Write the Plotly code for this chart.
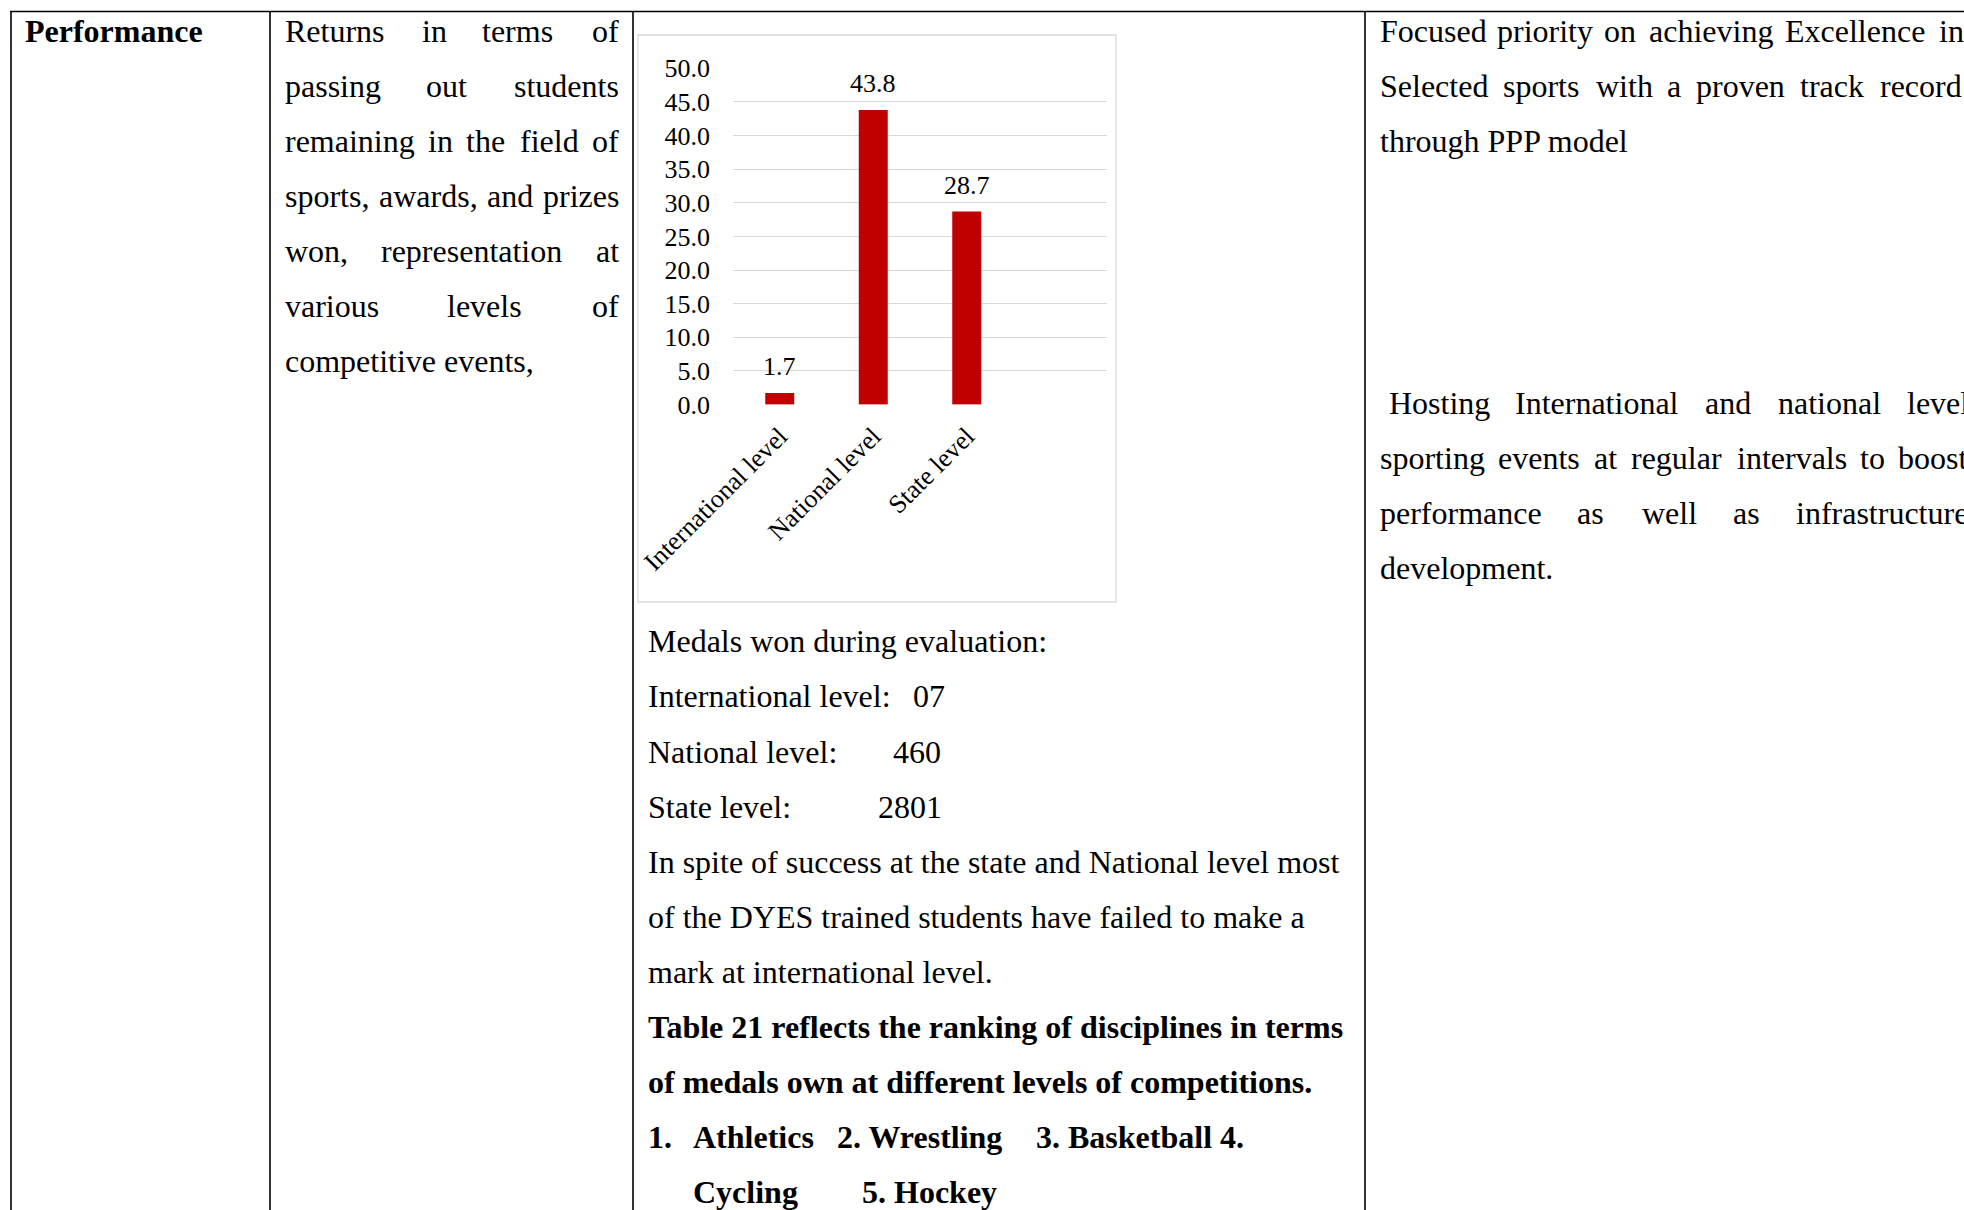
import plotly.graph_objects as go

W, H = 1964, 1210

# ---- data -------------------------------------------------------------
levels = ["International level", "National level", "State level"]
share_pct = [1.7, 43.8, 28.7]
medals = ["07", "460", "2801"]
y_ticks = [0, 5, 10, 15, 20, 25, 30, 35, 40, 45, 50]
disciplines = ["Athletics", "Wrestling", "Basketball", "Cycling", "Hockey"]

# ---- styling ----------------------------------------------------------
SERIF = "Liberation Serif, Times New Roman, serif"
BODY = 32
CHART = 26
BAR_RED = "#c00000"
GRID = "#d9d9d9"
RULE = "black"
TEXT_INSET = 2.5   # annotation box padding compensation, px


def px(x):
    return x / W


def py(y):
    return 1 - y / H


fig = go.Figure()

fig.add_trace(go.Bar(
    x=list(range(len(levels))),
    y=share_pct,
    width=0.31,
    marker=dict(color=BAR_RED, line=dict(width=0)),
    hoverinfo="skip",
))

# value labels above the bars
for i, v in enumerate(share_pct):
    fig.add_annotation(
        x=i, y=v, xref="x", yref="y", text=f"{v:.1f}",
        showarrow=False, yanchor="bottom", yshift=10,
        font=dict(family=SERIF, size=CHART, color="black"),
    )

# plot area placement (pixel rows of the 0 and 50 gridlines)
y0_px, y50_px, pad = 404.5, 68.3, 0.05
unit = (y0_px - y50_px) / 50.0
y_dom = [py(y0_px + pad * unit), py(y50_px - pad * unit)]

fig.update_layout(
    width=W, height=H,
    margin=dict(l=0, r=0, t=0, b=0, pad=0, autoexpand=False),
    paper_bgcolor="white", plot_bgcolor="white",
    showlegend=False,
    xaxis=dict(
        domain=[px(733), px(1107)],
        range=[-0.5, 3.5],
        tickmode="array",
        tickvals=list(range(len(levels))),
        ticktext=levels,
        tickangle=-45,
        automargin=False,
        showgrid=False, zeroline=False, showline=False, ticks="",
        ticklabelstandoff=10,
        tickfont=dict(family=SERIF, size=CHART, color="black"),
        fixedrange=True,
    ),
    yaxis=dict(
        domain=y_dom,
        range=[-pad, 50 + pad],
        tickmode="array",
        tickvals=y_ticks,
        tickformat=".1f",
        automargin=False,
        showgrid=True, gridcolor=GRID, gridwidth=1.3,
        zeroline=False, showline=False, ticks="",
        ticklabelstandoff=22,
        tickfont=dict(family=SERIF, size=CHART, color="black"),
        fixedrange=True,
    ),
)

# ---- table rules --------------------------------------------------------
shapes = [
    dict(type="line", xref="paper", yref="paper",
         x0=px(10), x1=px(W + 5), y0=py(11.5), y1=py(11.5),
         line=dict(color=RULE, width=1.6)),
]
for xv in [11, 270, 633, 1365]:
    shapes.append(dict(type="line", xref="paper", yref="paper",
                       x0=px(xv), x1=px(xv), y0=py(11), y1=py(H + 5),
                       line=dict(color=RULE, width=1.6)))
# chart frame
shapes.append(dict(type="rect", xref="paper", yref="paper",
                   x0=px(638), x1=px(1116), y0=py(35), y1=py(602),
                   line=dict(color=GRID, width=1.3)))
fig.update_layout(shapes=shapes)


# ---- cell text ------------------------------------------------------------
def text(x, y, s, bold=False, anchor="left"):
    x = x - TEXT_INSET if anchor == "left" else x + TEXT_INSET
    fig.add_annotation(
        x=px(x), y=py(y), xref="paper", yref="paper",
        text=f"<b>{s}</b>" if bold else s,
        showarrow=False, xanchor=anchor, yanchor="middle",
        font=dict(family=SERIF, size=BODY, color="black"),
    )


def justified(words, lefts, y, right=None):
    """Lay out one justified line word by word; optional right margin
    pins the last word flush right."""
    for k, (w, x) in enumerate(zip(words, lefts)):
        if right is not None and k == len(words) - 1:
            text(right, y, w, anchor="right")
        else:
            text(x, y, w)


LEAD = 55.1

# column 1
text(25, 30.5, "Performance", bold=True)

# column 2
c2_top, c2_left, c2_right = 30.5, 285, 618
c2_lines = [
    (["Returns", "in", "terms", "of"], [285, 422, 482.5, 591]),
    (["passing", "out", "students"], [285, 426, 514]),
    (["remaining", "in", "the", "field", "of"], [285, 428, 466, 520, 591]),
    (["sports,", "awards,", "and", "prizes"], [285, 379.5, 487, 543]),
    (["won,", "representation", "at"], [285, 381, 597]),
    (["various", "levels", "of"], [285, 447, 591]),
]
for k, (words, lefts) in enumerate(c2_lines):
    justified(words, lefts, c2_top + k * LEAD, right=c2_right)
text(c2_left, c2_top + 6 * LEAD, "competitive events,")

# column 3 (below the chart)
c3_top, c3_left = 641.3, 648
text(c3_left, c3_top, "Medals won during evaluation:")
for k, (lvl, n, xn) in enumerate(zip(levels, medals, [913, 893, 878.5])):
    yy = c3_top + (k + 1) * LEAD
    text(c3_left, yy, f"{lvl}:")
    text(xn, yy, n)
text(c3_left, c3_top + 4 * LEAD,
     "In spite of success at the state and National level most")
text(c3_left, c3_top + 5 * LEAD,
     "of the DYES trained students have failed to make a")
text(c3_left, c3_top + 6 * LEAD, "mark at international level.")
text(c3_left, c3_top + 7 * LEAD,
     "Table 21 reflects the ranking of disciplines in terms", bold=True)
text(c3_left, c3_top + 8 * LEAD,
     "of medals own at different levels of competitions.", bold=True)
yy = c3_top + 9 * LEAD
text(c3_left, yy, "1.", bold=True)
text(693, yy, disciplines[0], bold=True)
text(837.6, yy, f"2. {disciplines[1]}", bold=True)
text(1036.8, yy, f"3. {disciplines[2]} 4.", bold=True)
yy = c3_top + 10 * LEAD
text(693, yy, disciplines[3], bold=True)
text(862.7, yy, f"5. {disciplines[4]}", bold=True)

# column 4
c4_left = 1380
justified(["Focused", "priority", "on", "achieving", "Excellence", "in"],
          [1380, 1497.5, 1604.6, 1649, 1785, 1939], 30.5)
justified(["Selected", "sports", "with", "a", "proven", "track", "record"],
          [1380, 1503, 1596, 1667, 1696, 1800, 1880], 30.5 + LEAD)
text(c4_left, 30.5 + 2 * LEAD, "through PPP model")

h_top = 403
justified(["Hosting", "International", "and", "national", "level"],
          [1389, 1515, 1705, 1778, 1907], h_top)
justified(["sporting", "events", "at", "regular", "intervals", "to", "boost"],
          [1380, 1498, 1594, 1631.6, 1737, 1860, 1898.5], h_top + LEAD)
justified(["performance", "as", "well", "as", "infrastructure"],
          [1380, 1577.6, 1642, 1733, 1796.5], h_top + 2 * LEAD)
text(c4_left, h_top + 3 * LEAD, "development.")

fig.write_html("out.html", config={"displayModeBar": False})
